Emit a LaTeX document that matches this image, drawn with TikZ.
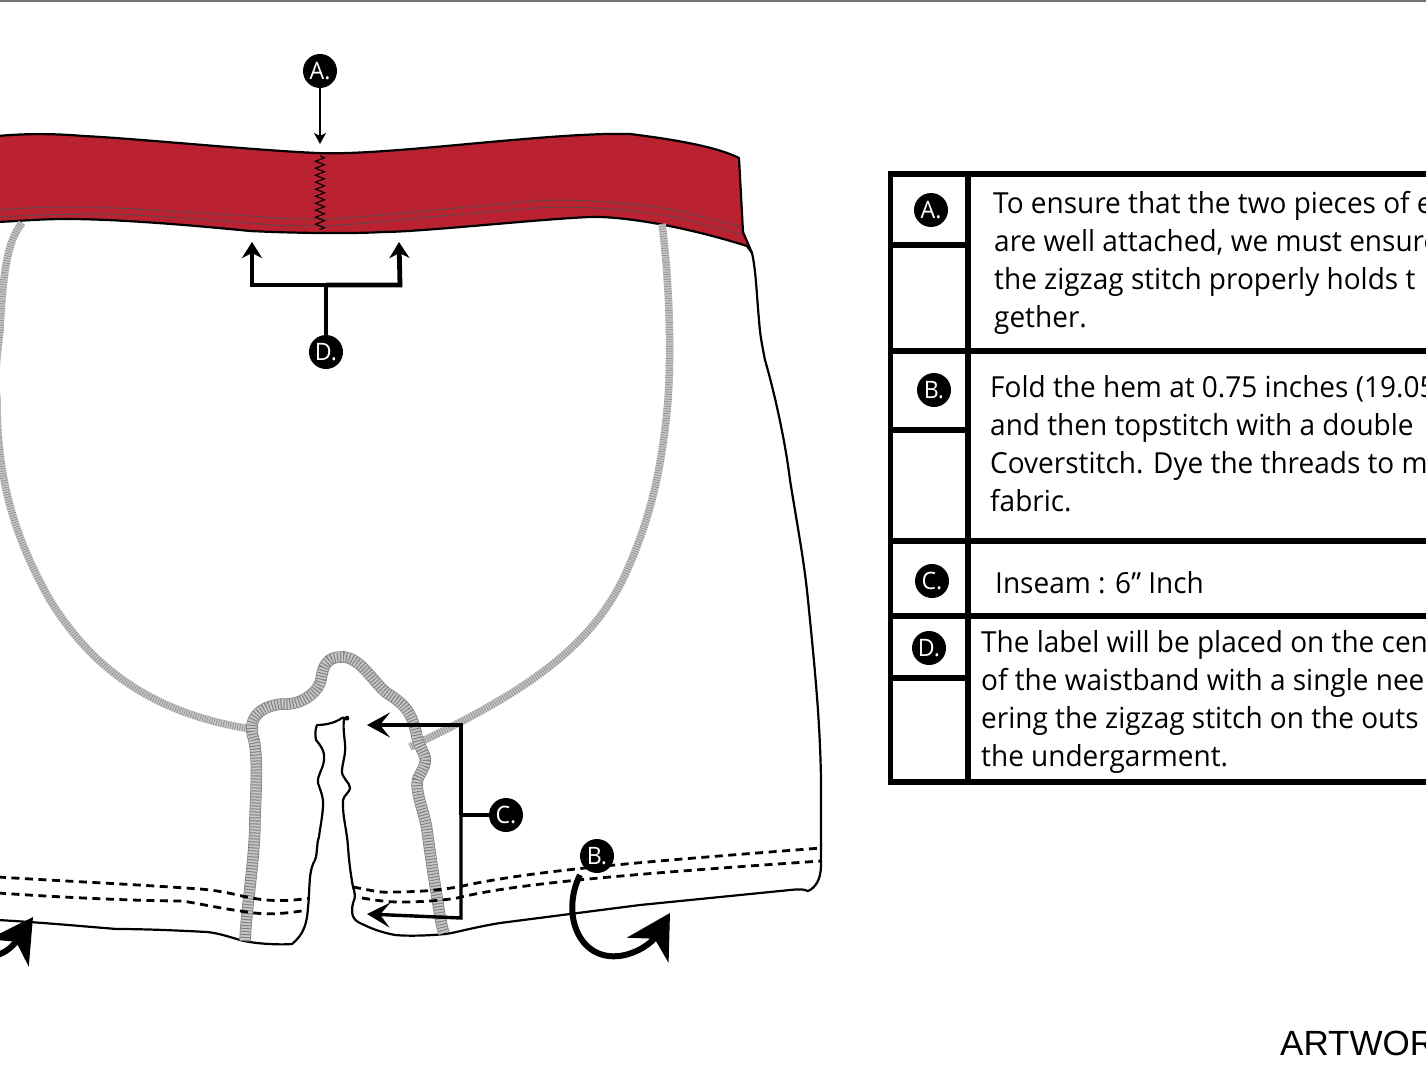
\documentclass[tikz,border=0pt]{standalone}
\usepackage{fontspec}
\setmainfont[FakeStretch=0.965]{Open Sans}
\newfontfamily\artfont{Liberation Sans}
\usetikzlibrary{arrows.meta,decorations.pathmorphing}
\definecolor{bandred}{HTML}{BA2231}
\tikzset{
 outline/.style={line width=2.2pt,black,line join=round},
 hemdash/.style={line width=2.8pt,black,dash pattern=on 8pt off 5.5pt},
 banddash/.style={line width=1pt,black!70,dash pattern=on 6pt off 1.8pt},
 seamE/.style={line width=11.5pt,black!50},
 seamA/.style={line width=10pt,black!22},
 seamB/.style={line width=10pt,black!50,dash pattern=on 1pt off 2pt},
 thinA/.style={line width=7.5pt,black!22},
 thinB/.style={line width=7.5pt,black!42,dash pattern=on 0.8pt off 1.6pt},
 badge/.style={circle,fill=black,text=white,minimum size=34pt,inner sep=0pt,font=\fontsize{24}{24}\selectfont},
 leader/.style={black,line width=3.4pt},
 rule/.style={black,line width=5.5pt},
 body/.style={anchor=base west,inner sep=0pt,font=\fontsize{29}{29}\selectfont},
}
\begin{document}
\begin{tikzpicture}[x=1pt,y=-1pt]
\useasboundingbox (0,0) rectangle (1426,1070);
\clip (0,0) rectangle (1426,1070);
\fill[black!55] (0,0) rectangle (1426,2);
% waistband
\fill[bandred] (-2,136) .. controls (30,133) and (60,134) .. (83,136)
  .. controls (130,138) and (250,150) .. (317,153)
  .. controls (380,156) and (520,136) .. (607,134)
  -- (630,134) .. controls (670,139) and (715,146) .. (739,158)
  -- (743,232) -- (752,253) -- (747,246)
  .. controls (680,225) and (620,216) .. (590,217)
  .. controls (540,219) and (420,232) .. (383,232)
  .. controls (350,234) and (290,233) .. (250,231)
  .. controls (200,226) and (120,219) .. (67,219)
  .. controls (40,219) and (20,221) .. (-2,222) -- cycle;
\draw[outline] (-2,136) .. controls (30,133) and (60,134) .. (83,136)
  .. controls (130,138) and (250,150) .. (317,153)
  .. controls (380,156) and (520,136) .. (607,134)
  -- (630,134) .. controls (670,139) and (715,146) .. (739,158) -- (743,232) -- (752,253);
\draw[outline] (-2,222) .. controls (20,221) and (40,219) .. (67,219)
  .. controls (120,219) and (200,226) .. (250,231)
  .. controls (290,233) and (350,234) .. (383,232)
  .. controls (420,232) and (540,219) .. (590,217)
  .. controls (620,216) and (680,225) .. (747,246) -- (752,253);
\draw[banddash] (-2,210) .. controls (20,208) and (45,207) .. (67,207)
  .. controls (100,207) and (140,209) .. (167,211)
  .. controls (200,213) and (230,215) .. (250,216)
  .. controls (280,219) and (300,219) .. (317,219)
  .. controls (350,219) and (430,210) .. (480,206)
  .. controls (510,203) and (535,200) .. (557,200)
  .. controls (590,200) and (650,205) .. (680,211)
  -- (742,227);
\draw[banddash] (-2,217) .. controls (30,215) and (70,214) .. (100,214)
  .. controls (130,214) and (150,216) .. (167,217)
  .. controls (200,219) and (230,222) .. (250,223)
  .. controls (280,226) and (300,226) .. (317,226)
  .. controls (350,226) and (430,216) .. (480,213)
  .. controls (510,210) and (540,207) .. (563,207)
  .. controls (600,207) and (650,212) .. (680,218)
  -- (739,234);
% zigzag
\draw[black,line width=1.1pt,decorate,decoration={zigzag,segment length=7pt,amplitude=4.5pt}] (320,156) -- (320,230);
% side outline
\draw[outline] (752,253) .. controls (756,270) and (757,300) .. (759,320)
  .. controls (760,335) and (762,345) .. (765,360)
  .. controls (775,395) and (785,440) .. (790,480)
  .. controls (798,530) and (804,560) .. (808,600)
  .. controls (815,670) and (820,720) .. (821,780)
  -- (821,865) .. controls (821,880) and (815,888) .. (808,891)
  .. controls (803,889) and (800,889) .. (790,890)
  -- (640,905) -- (500,923) .. controls (470,928) and (455,933) .. (445,934)
  .. controls (425,936) and (405,936) .. (395,935)
  .. controls (380,932) and (372,929) .. (358,922)
  .. controls (350,917) and (352,908) .. (353,903)
  .. controls (356,897) and (355,893) .. (353,887)
  .. controls (350,870) and (349,860) .. (348,847)
  .. controls (347,830) and (342,815) .. (343,800)
  .. controls (344,795) and (350,792) .. (350,788)
  .. controls (350,782) and (341,778) .. (342,770)
  .. controls (343,760) and (346,755) .. (345,743)
  .. controls (344,735) and (343,725) .. (344,720)
  .. controls (346,716) and (349,716) .. (348,719)
  .. controls (346,721) and (344,716) .. (342,718)
  .. controls (335,723) and (325,725) .. (317,725)
  .. controls (315,730) and (315,735) .. (316,740)
  .. controls (320,745) and (325,750) .. (324,760)
  .. controls (323,770) and (317,775) .. (318,783)
  .. controls (320,790) and (324,797) .. (323,807)
  .. controls (322,820) and (320,828) .. (319,837)
  .. controls (316,845) and (318,852) .. (315,860)
  .. controls (312,865) and (311,870) .. (310,877)
  .. controls (309,890) and (309,900) .. (308,907)
  .. controls (307,925) and (303,935) .. (292,944)
  .. controls (280,945) and (255,944) .. (240,940)
  .. controls (230,937) and (218,933) .. (207,932)
  .. controls (170,930) and (140,929) .. (117,929)
  .. controls (90,927) and (50,923) .. (-2,920);
% seams
\foreach \s in {thinA,thinB}{
 \draw[\s] (22,223) .. controls (8,240) and (3,270) .. (0,330)
   .. controls (-2,350) and (-6,370) .. (-3,400)
   .. controls (-3,470) and (10,530) .. (50,600)
   .. controls (90,665) and (150,715) .. (258,730);
 \draw[\s] (662,224) .. controls (668,270) and (672,340) .. (668,400)
   .. controls (662,470) and (650,520) .. (625,575)
   .. controls (590,650) and (520,695) .. (410,747);
}
\foreach \s in {seamE,seamA,seamB}{
 \draw[\s] (245,941) .. controls (247,900) and (255,860) .. (255,817)
   .. controls (256,790) and (258,760) .. (254,740)
   .. controls (245,715) and (265,705) .. (283,704)
   .. controls (300,705) and (315,695) .. (320,683)
   .. controls (323,675) and (321,658) .. (340,657)
   .. controls (360,655) and (375,685) .. (387,693)
   .. controls (400,702) and (412,708) .. (417,737)
   .. controls (420,750) and (427,755) .. (425,763)
   .. controls (423,772) and (416,778) .. (417,785)
   .. controls (418,800) and (425,815) .. (427,830)
   .. controls (431,860) and (435,885) .. (437,897)
   .. controls (439,910) and (441,925) .. (444,933);
}
% hem stitches
\draw[hemdash] (-2,877) .. controls (60,881) and (130,884) .. (200,889) .. controls (225,891) and (240,896) .. (247,897) .. controls (265,901) and (285,902) .. (310,898);
\draw[hemdash] (-2,893) .. controls (40,896) and (130,901) .. (183,901) .. controls (200,904) and (225,909) .. (247,912) .. controls (265,915) and (285,914) .. (307,910);
\draw[hemdash] (353,887) .. controls (370,890) and (380,893) .. (390,892) .. controls (420,892) and (445,890) .. (467,885) .. controls (540,870) and (640,862) .. (821,848);
\draw[hemdash] (362,898) .. controls (375,900) and (385,902) .. (400,902) .. controls (425,902) and (445,900) .. (457,898) .. controls (510,885) and (600,876) .. (821,861);
% badges on drawing
\node[badge] (nA) at (320,71) {A.};
\node[badge] (nB) at (597,856) {B.};
\node[badge] (nC) at (506,815) {C.};
\node[badge] (nD) at (326,352) {D.};
\coordinate (aTip) at (320,144);
\draw[black,line width=2.8pt,-{Stealth[length=11pt,width=12pt,inset=3pt]}] (nA) -- (aTip);
\coordinate (dMid) at (326,285);
\coordinate (dL) at (252,285);
\coordinate (dR) at (400,285);
\coordinate (dLt) at (252,242);
\coordinate (dRt) at (399,242);
\draw[black,line width=4.8pt] (nD) -- (dMid);
\draw[black,line width=4.8pt,-{Stealth[length=16pt,width=20pt,inset=5pt]}] (dMid) -- (dL) -- (dLt);
\draw[black,line width=4.8pt,-{Stealth[length=16pt,width=20pt,inset=5pt]}] (dMid) -- (dR) -- (dRt);
\coordinate (cMid) at (461,815);
\coordinate (cT) at (461,725);
\coordinate (cB) at (461,918);
\coordinate (cTt) at (367,725);
\coordinate (cBt) at (367,914);
\draw[leader] (nC) -- (cMid);
\draw[leader,-{Stealth[length=23pt,width=25pt,inset=10pt]}] (cMid) -- (cT) -- (cTt);
\draw[leader,-{Stealth[length=23pt,width=25pt,inset=10pt]}] (cMid) -- (cB) -- (cBt);
\coordinate (bS) at (580,875);
\coordinate (bT) at (670,913);
\draw[black,line width=6pt,-{Stealth[length=43pt,width=48pt,inset=13pt]}] (bS) .. controls (560,915) and (580,965) .. (625,955) .. controls (645,950) and (655,938) .. (bT);
\coordinate (lS) at (-35,945);
\coordinate (lT) at (33,917);
\draw[black,line width=6pt,-{Stealth[length=43pt,width=48pt,inset=13pt]}] (lS) .. controls (-15,965) and (5,955) .. (16,942) -- (lT);
% table
\draw[rule] (1430,174) -- (890.5,174) -- (890.5,782) -- (1430,782);
\draw[rule] (968,174) -- (968,782);
\draw[rule] (890,351) -- (1430,351);
\draw[rule] (890,541) -- (1430,541);
\draw[rule] (890,616) -- (1430,616);
\draw[rule] (890,245) -- (968,245);
\draw[rule] (890,430) -- (968,430);
\draw[rule] (890,678) -- (968,678);
\node[badge] (tA) at (931,210) {A.};
\node[badge] (tB) at (934,390) {B.};
\node[badge] (tC) at (932,581) {C.};
\node[badge] (tD) at (929,648) {D.};
\node[body] (a1) at (993,213) {To ensure that the two pieces of e};
\node[body] (a2) at (994,251) {are well attached, we must ensure};
\node[body] (a3) at (994,289) {the zigzag stitch properly holds t};
\node[body] (a4) at (994,327) {gether.};
\node[body] (b1) at (990,397) {Fold the hem at 0.75 inches (19.05};
\node[body] (b2) at (990,435) {and then topstitch with a double};
\node[body] (b3) at (990,473) {Coverstitch. Dye the threads to m};
\node[body] (b4) at (990,511) {fabric.};
\node[body] (c1) at (995,593) {Inseam : 6” Inch};
\node[body] (d1) at (981,652) {The label will be placed on the cen};
\node[body] (d2) at (981,690) {of the waistband with a single nee};
\node[body] (d3) at (981,728) {ering the zigzag stitch on the outs};
\node[body] (d4) at (981,766) {the undergarment.};
\node[anchor=base west,inner sep=0pt,font=\artfont\fontsize{35}{35}\selectfont] (art) at (1280,1055) {ARTWOR};
\end{tikzpicture}
\end{document}
